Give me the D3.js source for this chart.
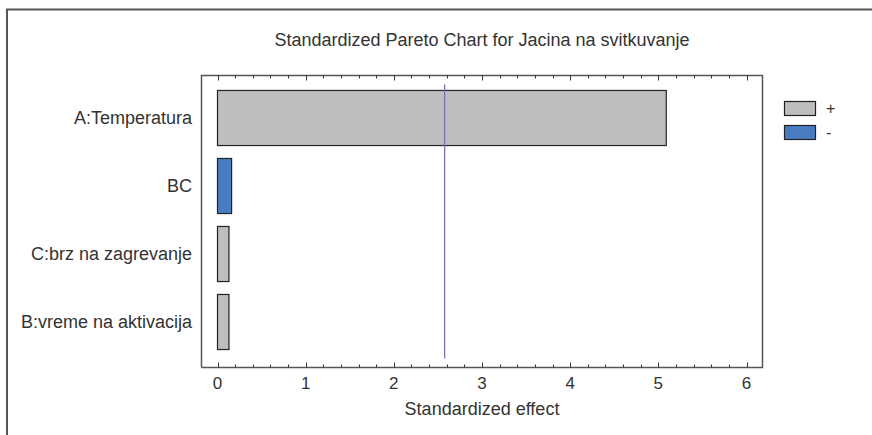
<!DOCTYPE html>
<html><head><meta charset="utf-8">
<script src="https://cdn.jsdelivr.net/npm/d3@7"></script>
<style>
html,body{margin:0;padding:0;background:#fff;}
text{font-family:"Liberation Sans",Arial,sans-serif;fill:#333;}
</style></head>
<body><svg id="c" width="872" height="435"></svg>
<script>
const categories = ["A:Temperatura","BC","C:brz na zagrevanje","B:vreme na aktivacija"];
const effects = [5.09, 0.16, 0.13, 0.13];
const signs = ["+","-","+","+"];
const xTicks = [0,1,2,3,4,5,6];
const criticalValue = 2.576;
const legendItems = ["+","-"];
const colors = {"+":"#bebebe","-":"#4a7cc2"};

const svg = d3.select("#c");
// outer frame
svg.append("path").attr("d","M7,435 L7,9.5 L872,9.5").attr("fill","none").attr("stroke","#555").attr("stroke-width",2);

const L=201.5, R=762.5, T=75.5, B=367.5;
const x = d3.scaleLinear().domain([0,6]).range([217.5,746.5]);
const y = d3.scaleBand().domain(categories).range([84,356]).paddingInner(0.19).paddingOuter(0.095);

// plot frame
svg.append("path").attr("d",`M${L},${B} L${L},${T} L${R},${T} L${R},${B} L${L},${B}`).attr("fill","none").attr("stroke","#555").attr("stroke-width",1.5);

// ticks
const minor = d3.range(0,6.001,0.2);
const isMajor = d => Math.abs(d-Math.round(d))<1e-6;
svg.append("g").selectAll("line").data(minor).join("line")
  .attr("x1",d=>Math.round(x(d))+0.5).attr("x2",d=>Math.round(x(d))+0.5)
  .attr("y1",T).attr("y2",d=>T+(isMajor(d)?5:3)).attr("stroke","#333");
svg.append("g").selectAll("line").data(minor).join("line")
  .attr("x1",d=>Math.round(x(d))+0.5).attr("x2",d=>Math.round(x(d))+0.5)
  .attr("y1",B).attr("y2",d=>B-(isMajor(d)?5:3)).attr("stroke","#333");

// bars
svg.append("g").selectAll("rect").data(categories).join("rect")
  .attr("x",x(0)).attr("y",d=>y(d))
  .attr("width",(d,i)=>x(effects[i])-x(0)).attr("height",y.bandwidth())
  .attr("fill",(d,i)=>colors[signs[i]]).attr("stroke","#222").attr("stroke-width",1.2);

// critical line
svg.append("line").attr("x1",x(criticalValue)).attr("x2",x(criticalValue))
  .attr("y1",T+9).attr("y2",B-9).attr("stroke","#7a72b0").attr("stroke-width",1.3);

// category labels
svg.append("g").selectAll("text").data(categories).join("text")
  .attr("x",192).attr("y",d=>y(d)+y.bandwidth()/2).attr("dy","0.36em")
  .attr("text-anchor","end").attr("font-size",18).text(d=>d);

// x tick labels
svg.append("g").selectAll("text").data(xTicks).join("text")
  .attr("x",d=>x(d)).attr("y",389).attr("text-anchor","middle").attr("font-size",17).text(d=>d);

svg.append("text").attr("x",482).attr("y",415).attr("text-anchor","middle").attr("font-size",18).text("Standardized effect");
svg.append("text").attr("x",482).attr("y",46).attr("text-anchor","middle").attr("font-size",18).text("Standardized Pareto Chart for Jacina na svitkuvanje");

// legend
const lg = svg.append("g");
legendItems.forEach((k,i)=>{
  lg.append("rect").attr("x",784.5).attr("y",101.5+i*24).attr("width",31).attr("height",14)
    .attr("fill",colors[k]).attr("stroke","#222").attr("stroke-width",1.2);
  lg.append("text").attr("x",826).attr("y",108.5+i*24).attr("dy","0.36em").attr("font-size",16).text(k);
});
</script></body></html>
